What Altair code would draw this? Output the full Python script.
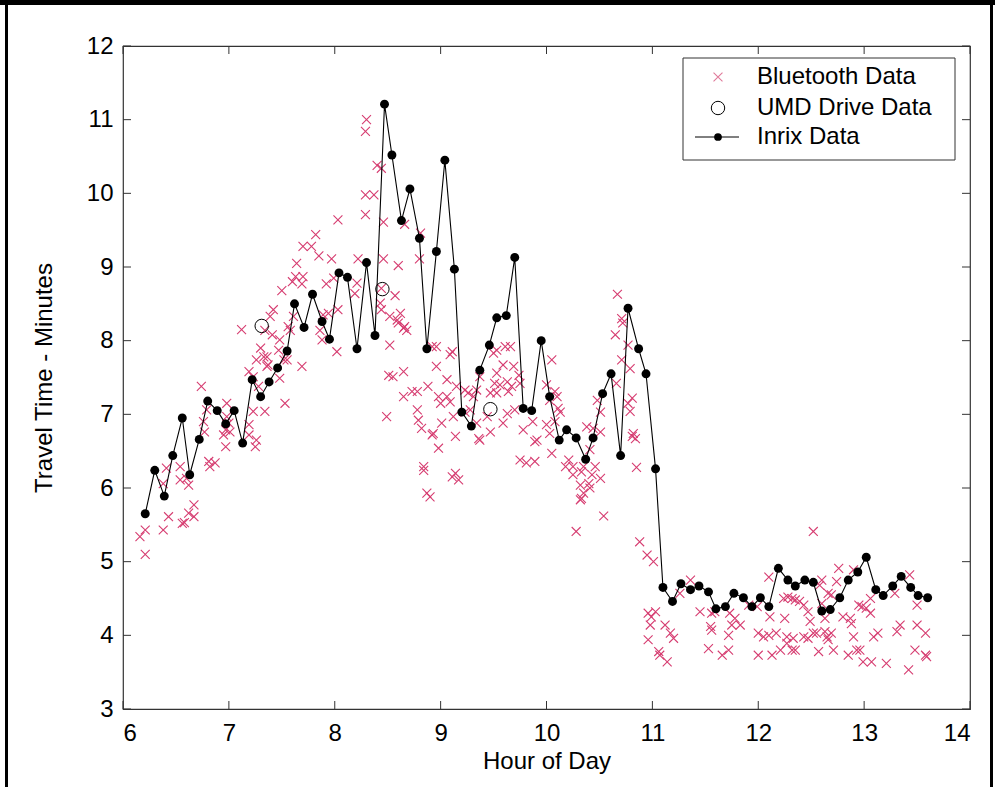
import altair as alt
import pandas as pd

# ---------------- data ----------------
x_ticks = [6, 7, 8, 9, 10, 11, 12, 13, 14]
y_ticks = [3, 4, 5, 6, 7, 8, 9, 10, 11, 12]

inrix = [(6.21,5.65),(6.30,6.24),(6.39,5.89),(6.47,6.44),(6.56,6.95),(6.63,6.18),(6.72,6.66),
         (6.80,7.18),(6.89,7.05),(6.97,6.87),(7.05,7.05),(7.13,6.61),(7.22,7.47),(7.30,7.24),
         (7.38,7.44),(7.46,7.63),(7.55,7.86),(7.62,8.50),(7.71,8.18),(7.79,8.63),(7.88,8.26),
         (7.95,8.02),(8.04,8.92),(8.12,8.86),(8.21,7.89),(8.30,9.06),(8.38,8.07),(8.47,11.21),
         (8.54,10.52),(8.63,9.63),(8.71,10.06),(8.80,9.39),(8.87,7.89),(8.96,9.21),(9.04,10.45),
         (9.13,8.97),(9.20,7.03),(9.29,6.84),(9.37,7.60),(9.46,7.94),(9.53,8.31),(9.62,8.34),
         (9.70,9.13),(9.78,7.08),(9.86,7.05),(9.95,8.00),(10.03,7.24),(10.12,6.65),(10.19,6.79),
         (10.28,6.68),(10.37,6.39),(10.44,6.68),(10.53,7.28),(10.61,7.55),(10.70,6.44),(10.77,8.44),
         (10.87,7.89),(10.94,7.55),(11.03,6.26),(11.10,4.65),(11.19,4.46),(11.27,4.70),(11.36,4.62),
         (11.44,4.67),(11.53,4.59),(11.60,4.36),(11.69,4.39),(11.77,4.57),(11.86,4.51),(11.94,4.39),
         (12.02,4.51),(12.10,4.39),(12.19,4.91),(12.28,4.75),(12.35,4.67),(12.44,4.75),(12.52,4.72),
         (12.60,4.33),(12.68,4.35),(12.77,4.51),(12.85,4.75),(12.94,4.86),(13.02,5.06),(13.11,4.62),
         (13.18,4.54),(13.27,4.67),(13.35,4.80),(13.44,4.65),(13.51,4.54),(13.60,4.51)]

umd = [(7.31,8.20),(8.45,8.70),(9.47,7.07)]

bt_peak_top = [(8.30,11.00),(8.29,10.84),(8.40,10.38),(8.44,10.34),(8.29,9.98),(8.37,9.98),
               (8.29,9.71),(8.03,9.64),(8.46,9.61),(7.82,9.44),(7.70,9.28),(7.78,9.28),(7.85,9.15),
               (7.97,9.11),(7.64,9.05),(7.63,8.87),(7.70,8.87),(7.60,8.80),(7.69,8.77),(7.50,8.68),
               (7.92,8.77),(7.99,8.85),(8.22,9.11),(8.21,8.78),(8.19,8.64),(8.46,9.11),(8.60,9.02),
               (8.57,8.61),(8.44,8.71),(8.66,9.58),(8.81,9.46),(8.80,9.11)]

bt_early = [(6.16,5.34),(6.21,5.43),(6.21,5.10),(6.38,5.43),(6.43,5.61),(6.38,6.06),(6.41,6.27),
            (6.56,5.52),(6.58,5.53),(6.62,5.66),(6.67,5.61),(6.67,5.77),(6.54,6.11),(6.60,6.13),
            (6.54,6.29),(6.62,6.04),(6.81,6.36),(6.87,6.34),(6.82,6.29),(6.77,6.76),(6.76,6.90),
            (6.74,7.38),(6.79,7.06),(6.98,7.15),(6.98,6.97),(7.00,6.88),(6.97,6.79),(6.95,6.72),
            (6.97,6.56),(7.01,6.76),(7.19,6.86),(7.19,6.72),(7.26,6.65),(7.25,6.56),(7.23,7.04),
            (7.34,7.04),(7.19,7.58),(7.23,7.51),(7.30,7.90),(7.26,7.74),(7.28,7.38),(7.36,7.78),
            (7.33,7.78),(7.36,7.65),(7.37,7.67),(7.41,8.08),(7.34,8.14),(7.39,8.33),(7.42,8.42),
            (7.12,8.15),(7.48,8.01),(7.47,7.87),(7.52,7.74),(7.48,7.49),(7.53,7.15),(7.55,7.74),
            (7.56,8.19),(7.58,8.14),(7.61,8.33),(7.69,7.65),(7.86,8.14),(7.88,8.01),(7.89,8.35),
            (7.94,8.37),(8.03,8.42),(8.02,7.85),(8.44,8.42),(8.43,8.51),(8.52,8.33),(8.59,8.28),
            (8.60,8.24),(8.52,7.94),(8.51,7.53),(8.55,7.51),(8.49,6.97)]

bt_mid = [(8.62,8.37),(8.66,8.19),(8.68,8.14),(8.65,8.17),(8.92,7.92),(8.96,7.92),(9.09,7.81),
          (9.11,7.85),(9.50,7.83),(9.53,7.87),(9.61,7.92),(9.66,7.92),(8.65,7.58),(8.65,7.24),
          (8.73,7.31),(8.78,7.31),(8.88,7.38),(8.78,7.06),(8.79,6.92),(8.82,6.81),(8.96,7.65),
          (9.06,7.47),(9.15,7.38),(8.98,7.24),(9.00,7.15),(9.06,7.24),(9.09,7.17),(9.01,6.88),
          (8.93,6.74),(8.92,6.72),(8.98,6.54),(8.84,6.29),(8.84,6.24),(9.11,6.15),(9.14,6.20),
          (9.17,6.11),(8.87,5.93),(8.90,5.88),(9.14,6.70),(9.12,6.97),(9.23,7.33),(9.26,7.29),
          (9.31,7.24),(9.34,7.33),(9.37,6.65),(9.47,6.76),(9.23,7.03),(9.47,7.29),(9.51,7.42),
          (9.56,7.40),(9.63,7.44),(9.67,7.38),(9.64,7.31),(9.53,7.29),(9.75,7.42),(9.74,7.53),
          (9.69,7.65),(9.59,7.67),(9.78,6.79),(9.87,6.90),(9.89,6.63),(9.91,6.65),(9.75,6.38),
          (9.81,6.34),(9.89,6.36),(9.63,7.01),(9.59,6.88),(9.70,7.06),(9.44,6.97),(9.28,7.06),
          (9.34,6.88),(9.36,6.67),(9.37,7.51),(9.53,7.56)]

bt_late_morning = [(10.67,8.63),(10.71,8.30),(10.72,8.24),(10.65,8.08),(10.77,7.94),(10.71,7.74),
                   (10.79,7.62),(10.66,7.42),(10.77,7.15),(10.81,7.22),(10.79,7.04),(10.82,6.74),
                   (10.84,6.67),(10.81,6.70),(10.85,6.28),(10.54,5.62),(10.05,7.74),(10.00,7.40),
                   (10.08,7.31),(10.10,7.24),(10.03,7.19),(10.11,7.08),(10.13,7.03),(10.00,6.86),
                   (10.08,6.90),(10.03,6.74),(10.05,6.47),(10.48,7.19),(10.51,7.03),(10.44,6.81),
                   (10.51,6.76),(10.38,6.83),(10.41,6.52),(10.18,6.29),(10.21,6.38),(10.25,6.29),
                   (10.25,6.18),(10.35,6.29),(10.32,6.04),(10.35,5.93),(10.33,5.86),(10.41,6.00),
                   (10.46,6.29),(10.51,6.13),(10.43,6.18),(10.28,5.41),(10.33,6.22),(10.40,6.06),
                   (10.32,5.84)]

bt_midday = [(10.88,5.27),(10.95,5.09),(11.01,5.00),(10.96,4.30),(11.03,4.32),(10.99,4.25),
             (10.98,4.14),(10.96,3.94),(11.06,3.78),(11.07,3.73),(11.14,3.64),(11.12,4.14),
             (11.17,4.03),(11.20,3.96),(11.26,4.57),(11.36,4.75),(11.45,4.32),(11.56,4.30),
             (11.59,4.32),(11.55,4.12),(11.56,4.07),(11.53,3.82),(11.66,3.73),(11.72,3.80),
             (11.72,4.00),(11.73,4.30),(11.78,4.23),(11.83,4.14),(11.75,4.14),(11.91,4.41),
             (11.99,4.39),(12.00,4.03),(12.05,3.98),(12.00,3.73),(12.10,4.79),(12.11,4.25),
             (12.10,4.00),(12.13,3.73),(12.17,4.03),(12.21,3.80),(12.27,3.89),(12.32,3.80),
             (12.35,3.80),(12.27,3.98),(12.33,3.96),(12.43,3.98),(12.47,3.96),(12.52,4.03),
             (12.49,4.19),(12.24,4.50),(12.28,4.52),(12.32,4.50),(12.35,4.48),(12.39,4.46),
             (12.43,4.41),(12.25,4.23),(12.47,4.32),(12.57,3.78),(12.55,4.03),(12.63,4.05),
             (12.65,3.98),(12.66,3.94),(12.69,4.03),(12.60,4.75),(12.58,4.68),(12.66,4.57),
             (12.69,4.55),(12.60,4.43),(12.63,4.23),(12.71,3.80),(12.52,5.41),(12.76,4.91),
             (12.74,4.73),(12.80,4.25),(12.87,4.23),(12.88,4.16),(12.90,3.98),(12.85,3.73),
             (12.93,3.80),(12.96,3.80),(12.99,3.64),(13.07,3.64),(13.21,3.62),(12.90,4.89),
             (12.95,4.41),(12.98,4.39),(13.02,4.37),(13.06,4.50),(13.06,4.30),(13.09,3.98),
             (13.13,4.03),(13.31,4.05),(13.34,4.14),(13.29,4.57),(13.42,3.53),(13.43,4.82),
             (13.50,4.41),(13.50,4.14),(13.58,4.03),(13.48,3.80),(13.58,3.73),(13.59,3.71)]

legend_labels = ["Bluetooth Data", "UMD Drive Data", "Inrix Data"]

# ---------------- styling ----------------
W, H = 847, 663
FONT = "Liberation Sans"
PINK = "#d63c70"
AXC = "#333333"
X_PATH = "M-1,-1L1,1M-1,1L1,-1"

xs = alt.Scale(domain=[6, 14], nice=False, zero=False)
ys = alt.Scale(domain=[3, 12], nice=False, zero=False)

bt_df = pd.DataFrame(bt_early + bt_peak_top + bt_mid + bt_late_morning + bt_midday,
                     columns=["hour", "minutes"])
inrix_df = pd.DataFrame(inrix, columns=["hour", "minutes"])
umd_df = pd.DataFrame(umd, columns=["hour", "minutes"])
one = pd.DataFrame({"k": [0]})

x_axis = alt.Axis(values=x_ticks, format="d", title="Hour of Day", grid=False, domain=False,
                  ticks=False, labelFontSize=24, labelFont=FONT, labelColor="black",
                  labelPadding=12, titleFontSize=24, titleFont=FONT, titleFontWeight="normal",
                  titleColor="black", titlePadding=4)
y_axis = alt.Axis(values=y_ticks, format="d", title="Travel Time - Minutes", grid=False,
                  domain=False, ticks=False, labelFontSize=24, labelFont=FONT,
                  labelColor="black", labelPadding=10, titleFontSize=24, titleFont=FONT,
                  titleFontWeight="normal", titleColor="black", titlePadding=30)


def X(field):
    return alt.X(field, scale=xs, axis=x_axis)


def Y(field):
    return alt.Y(field, scale=ys, axis=y_axis)


bt = alt.Chart(bt_df).mark_point(shape=X_PATH, filled=False, stroke=PINK, strokeWidth=1.1,
                                 size=80, opacity=1).encode(x=X("hour:Q"), y=Y("minutes:Q"))

line = alt.Chart(inrix_df).mark_line(color="black", strokeWidth=1.1).encode(
    x=X("hour:Q"), y=Y("minutes:Q"))
dots = alt.Chart(inrix_df).mark_point(shape="circle", filled=True, color="black",
                                      size=80, opacity=1).encode(x=X("hour:Q"), y=Y("minutes:Q"))
umd_pts = alt.Chart(umd_df).mark_point(shape="circle", filled=False, color="black",
                                       strokeWidth=1, size=180, opacity=1).encode(
    x=X("hour:Q"), y=Y("minutes:Q"))

# inward ticks on all four sides (MATLAB style box)
xt = pd.DataFrame({"hour": x_ticks})
yt = pd.DataFrame({"minutes": y_ticks})
tk = dict(color=AXC, strokeWidth=1)
ticks = [
    alt.Chart(xt).mark_rule(**tk).encode(x=X("hour:Q"), y=alt.value(H), y2=alt.value(H - 8)),
    alt.Chart(xt).mark_rule(**tk).encode(x=X("hour:Q"), y=alt.value(0), y2=alt.value(8)),
    alt.Chart(yt).mark_rule(**tk).encode(y=Y("minutes:Q"), x=alt.value(0), x2=alt.value(8)),
    alt.Chart(yt).mark_rule(**tk).encode(y=Y("minutes:Q"), x=alt.value(W), x2=alt.value(W - 8)),
]

# legend
lx_sym, lx_txt = 595, 634
rows = [31, 62, 91]
legend = [
    alt.Chart(one).mark_rect(fill="white", stroke=AXC, strokeWidth=1).encode(
        x=alt.value(560), x2=alt.value(832), y=alt.value(12), y2=alt.value(114)),
    alt.Chart(one).mark_point(shape=X_PATH, filled=False, stroke="#e07a9a", strokeWidth=1.1,
                              size=80, opacity=1).encode(x=alt.value(lx_sym), y=alt.value(rows[0])),
    alt.Chart(one).mark_point(shape="circle", filled=False, color="black", strokeWidth=1,
                              size=180, opacity=1).encode(x=alt.value(lx_sym), y=alt.value(rows[1])),
    alt.Chart(one).mark_rule(color="black", strokeWidth=1).encode(
        x=alt.value(572), x2=alt.value(616), y=alt.value(rows[2])),
    alt.Chart(one).mark_point(shape="circle", filled=True, color="black", size=60,
                              opacity=1).encode(x=alt.value(lx_sym), y=alt.value(rows[2])),
]
for lab, ry in zip(legend_labels, rows):
    legend.append(alt.Chart(one).mark_text(align="left", baseline="middle", font=FONT,
                                           fontSize=24, color="black").encode(
        x=alt.value(lx_txt), y=alt.value(ry), text=alt.value(lab)))

# figure border (scanned page frame)
border = [
    alt.Chart(one).mark_rule(color="black", strokeWidth=5).encode(
        x=alt.value(-123), x2=alt.value(872), y=alt.value(-43.5)),
    alt.Chart(one).mark_rule(color="black", strokeWidth=3).encode(
        x=alt.value(-116.5), y=alt.value(-46), y2=alt.value(741)),
    alt.Chart(one).mark_rule(color="black", strokeWidth=3).encode(
        x=alt.value(868.5), y=alt.value(-46), y2=alt.value(741)),
]

chart = alt.layer(bt, line, dots, umd_pts, *ticks, *legend, *border).properties(
    width=W, height=H,
    autosize=alt.AutoSizeParams(type="none"),
    padding={"left": 123, "top": 46, "right": 25, "bottom": 78},
    background="white",
).configure_view(stroke=AXC, strokeWidth=1.2)

chart.save("out.html", embed_options={"renderer": "svg", "actions": False})
